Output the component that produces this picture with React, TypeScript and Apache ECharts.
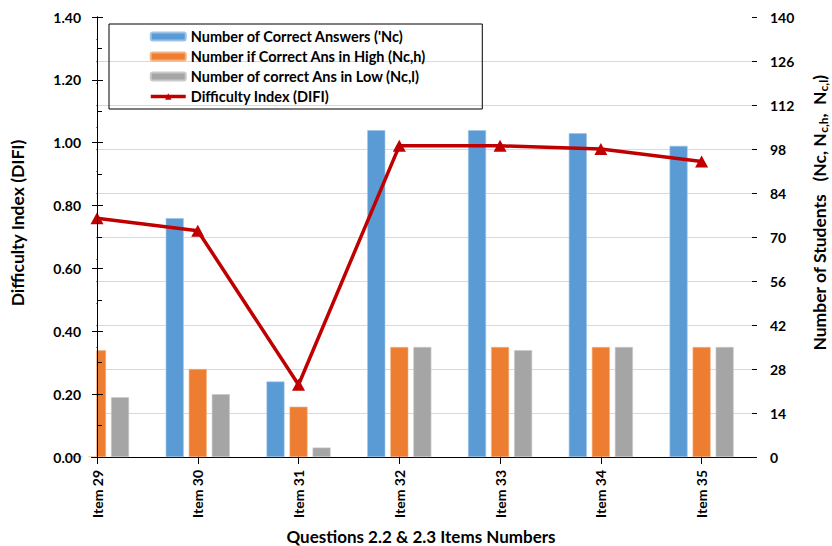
import { useEffect, useRef } from 'react';
import * as echarts from 'echarts';

// Item labels along the bottom axis
const items = ['Item 29', 'Item 30', 'Item 31', 'Item 32', 'Item 33', 'Item 34', 'Item 35'];

// Student counts (right axis)
const correctAll = [80, 76, 24, 104, 104, 103, 99];
const correctHigh = [34, 28, 16, 35, 35, 35, 35];
const correctLow = [19, 20, 3, 35, 34, 35, 35];

// Difficulty index (left axis)
const difficulty = [0.76, 0.72, 0.23, 0.99, 0.99, 0.98, 0.94];

// Axis ranges
const difiMax = 1.4;
const difiStep = 0.2;
const studentMax = 140;
const studentStep = 14;

// Horizontal gridlines, in student units (match the 0.20 steps on the left)
const gridValues = [14, 28, 42, 56, 70, 84, 98, 112, 126];

const FONT = 'Lato, "Liberation Sans", sans-serif';
const itemPositions = items.map((_, i) => i);

// Plot box in pixels
const GRID_LEFT = 97;
const GRID_RIGHT = 80;
const GRID_TOP = 17;
const GRID_BOTTOM = 89;

const SERIES_NAMES = [
  'Number of Correct Answers (\'Nc)',
  'Number if Correct Ans in High (Nc,h)',
  'Number of correct Ans in Low (Nc,l)',
  'Difficulty Index (DIFI)',
];

export default function App() {
  const ref = useRef<HTMLDivElement>(null);

  useEffect(() => {
    if (!ref.current) return;
    const chart = echarts.init(ref.current, undefined, { renderer: 'svg' });

    const labelStyle = { fontFamily: FONT, fontWeight: 'bold' as const, fontSize: 14, color: '#000' };
    const xCommon = {
      type: 'value' as const,
      min: 0,
      max: items.length - 0.5,
      interval: 1,
      splitLine: { show: false },
    };
    const difiRange = { type: 'value' as const, position: 'left' as const, min: 0, max: difiMax, interval: difiStep };
    const studentRange = { type: 'value' as const, position: 'right' as const, min: 0, max: studentMax, interval: studentStep };
    const black = { color: '#000' };

    chart.setOption({
      animation: false,
      textStyle: { fontFamily: FONT },
      grid: {
        left: GRID_LEFT,
        right: GRID_RIGHT,
        top: GRID_TOP,
        bottom: GRID_BOTTOM,
        show: false,
      },
      legend: {
        orient: 'vertical',
        left: 109,
        top: 24,
        itemWidth: 35,
        itemHeight: 8,
        itemGap: 5,
        padding: [5, 56, 5, 40],
        borderColor: '#000',
        borderWidth: 1,
        textStyle: { ...labelStyle, fontSize: 14.5 },
        data: [
          SERIES_NAMES[0],
          SERIES_NAMES[1],
          SERIES_NAMES[2],
          { name: SERIES_NAMES[3], lineStyle: { width: 3.5, color: '#C00000' } },
        ],
      },
      xAxis: [
        {
          ...xCommon,
          position: 'bottom',
          axisLine: { show: true, lineStyle: { color: '#000', width: 1 } },
          axisTick: { show: true, inside: true, length: 4, customValues: itemPositions, lineStyle: black },
          axisLabel: {
            ...labelStyle,
            rotate: 90,
            margin: 13,
            customValues: itemPositions,
            formatter: (v: number) => items[Math.round(v)] ?? '',
          },
        },
        {
          ...xCommon,
          position: 'bottom',
          axisLine: { show: false },
          axisTick: { show: true, length: 7, customValues: itemPositions, lineStyle: black },
          axisLabel: { show: false },
        },
        {
          // top edge of the plot area
          ...xCommon,
          position: 'top',
          axisLine: { show: true, lineStyle: { color: '#000', width: 1 } },
          axisTick: { show: false },
          axisLabel: { show: false },
        },
      ],
      yAxis: [
        {
          // difficulty scale used by the line
          ...difiRange,
          axisLine: { show: false },
          axisTick: { show: false },
          axisLabel: { show: false },
          splitLine: { show: false },
        },
        {
          // student scale used by the bars
          ...studentRange,
          axisLine: { show: true, lineStyle: black },
          axisTick: { show: true, inside: true, length: 6, lineStyle: black },
          minorTick: { show: true, splitNumber: 2, length: 5, lineStyle: black },
          axisLabel: { ...labelStyle, margin: 18 },
          splitLine: { show: false },
        },
        {
          // left axis line, labels and inner ticks, drawn above the edge mask
          ...difiRange,
          z: 10,
          axisLine: { show: true, lineStyle: black },
          axisTick: { show: true, inside: true, length: 6, lineStyle: black },
          minorTick: { show: true, splitNumber: 2, length: 5, lineStyle: black },
          axisLabel: { ...labelStyle, margin: 16, formatter: (v: number) => v.toFixed(2) },
          splitLine: { show: false },
        },
        {
          // outward half of the left major ticks
          ...difiRange,
          z: 10,
          axisLine: { show: false },
          axisTick: { show: true, length: 5, lineStyle: black },
          axisLabel: { show: false },
          splitLine: { show: false },
        },
        {
          // outward half of the right major ticks
          ...studentRange,
          axisLine: { show: false },
          axisTick: { show: true, length: 5, lineStyle: black },
          axisLabel: { show: false },
          splitLine: { show: false },
        },
      ],
      series: [
        {
          name: SERIES_NAMES[0],
          type: 'bar',
          yAxisIndex: 1,
          barWidth: 18,
          barGap: '28%',
          itemStyle: { color: '#5B9BD5', borderColor: '#9DC3E6', borderWidth: 0.6 },
          data: correctAll.map((v, i) => [i, v]),
          // light horizontal gridlines behind the bars
          markLine: {
            silent: true,
            z: 1,
            symbol: ['none', 'none'],
            label: { show: false },
            lineStyle: { color: '#D9D9D9', type: 'solid', width: 1.2 },
            data: gridValues.map((v) => ({ yAxis: v })),
          },
        },
        {
          name: SERIES_NAMES[1],
          type: 'bar',
          yAxisIndex: 1,
          barWidth: 18,
          barGap: '28%',
          itemStyle: { color: '#ED7D31', borderColor: '#F4B183', borderWidth: 0.6 },
          data: correctHigh.map((v, i) => [i, v]),
        },
        {
          name: SERIES_NAMES[2],
          type: 'bar',
          yAxisIndex: 1,
          barWidth: 18,
          barGap: '28%',
          itemStyle: { color: '#A5A5A5', borderColor: '#C9C9C9', borderWidth: 0.6 },
          data: correctLow.map((v, i) => [i, v]),
        },
        {
          name: SERIES_NAMES[3],
          type: 'line',
          yAxisIndex: 0,
          symbol: 'triangle',
          symbolSize: [13, 12],
          z: 6,
          lineStyle: { color: '#C00000', width: 3.5 },
          itemStyle: { color: '#C00000' },
          data: difficulty.map((v, i) => [i, v]),
        },
      ],
      graphic: [
        {
          // hides the part of the first group of bars that falls left of the plot
          type: 'rect',
          z: 5,
          silent: true,
          shape: { x: 30, y: GRID_TOP, width: GRID_LEFT - 30 - 0.5, height: 546 - GRID_TOP - GRID_BOTTOM - 0.5 },
          style: { fill: '#fff' },
        },
        {
          type: 'text',
          z: 10,
          x: 17,
          y: 223,
          rotation: Math.PI / 2,
          style: {
            text: 'Difficulty Index (DIFI)',
            fontFamily: FONT,
            fontWeight: 'bold',
            fontSize: 17.5,
            fill: '#000',
            align: 'center',
            verticalAlign: 'middle',
          },
        },
        {
          type: 'text',
          z: 10,
          x: 819,
          y: 213,
          rotation: Math.PI / 2,
          style: {
            text: '{m|Number of Students   (Nc, N}{s|c,h}{m|,  N}{s|c,l}{m|)}',
            align: 'center',
            verticalAlign: 'middle',
            rich: {
              m: { fontFamily: FONT, fontWeight: 'bold', fontSize: 17.5, lineHeight: 21, fill: '#000' },
              s: { fontFamily: FONT, fontWeight: 'bold', fontSize: 12, lineHeight: 13, verticalAlign: 'bottom', fill: '#000' },
            },
          },
        },
        {
          type: 'text',
          z: 10,
          x: 421,
          y: 536,
          style: {
            text: 'Questions 2.2 & 2.3 Items Numbers',
            fontFamily: FONT,
            fontWeight: 'bold',
            fontSize: 17,
            fill: '#000',
            align: 'center',
            verticalAlign: 'middle',
          },
        },
      ],
    });

    return () => chart.dispose();
  }, []);

  return (
    <div
      ref={ref}
      style={{ position: 'fixed', left: 0, top: 0, width: 832, height: 546, background: '#fff' }}
    />
  );
}
